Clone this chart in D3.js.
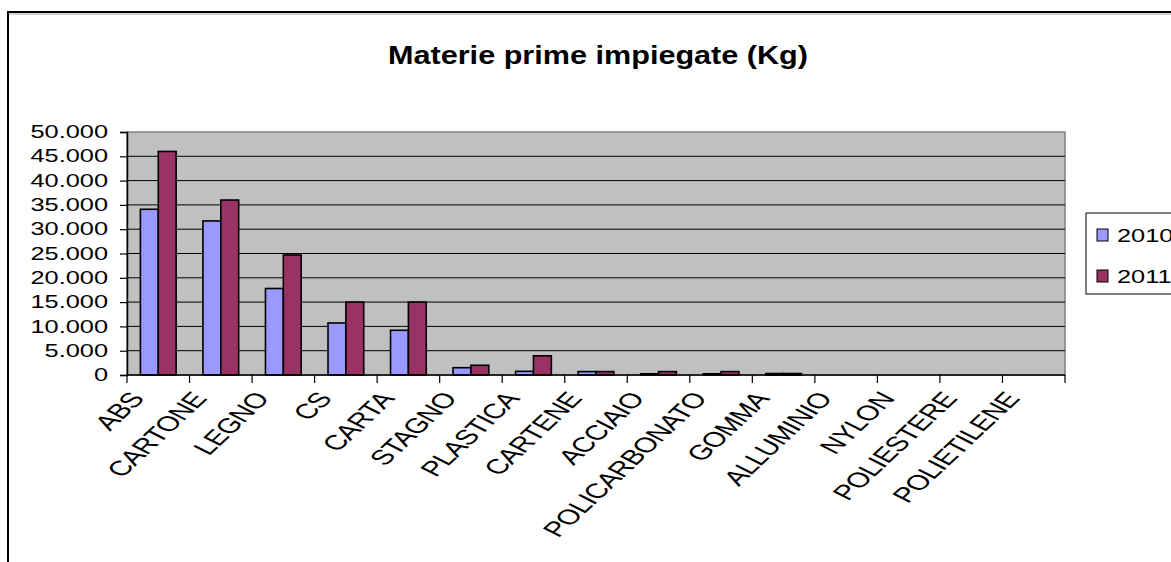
<!DOCTYPE html>
<html>
<head>
<meta charset="utf-8">
<script src="https://cdn.jsdelivr.net/npm/d3@7"></script>
<style>
  body { margin: 0; background: #fff; }
  svg { display: block; }
  text { font-family: "Liberation Sans", Arial, sans-serif; }
</style>
</head>
<body>
<div id="chart"></div>
<script>
// materials (Kg) for the two years
var categories = ['ABS', 'CARTONE', 'LEGNO', 'CS', 'CARTA', 'STAGNO', 'PLASTICA', 'CARTENE',
  'ACCIAIO', 'POLICARBONATO', 'GOMMA', 'ALLUMINIO', 'NYLON', 'POLIESTERE', 'POLIETILENE'];
var years = ['2010', '2011'];
var values2010 = [34100, 31700, 17800, 10700, 9200, 1500, 750, 700, 250, 250, 300, 0, 0, 0, 0];
var values2011 = [46000, 36000, 24700, 15000, 15000, 2000, 3950, 700, 700, 700, 300, 0, 0, 0, 0];
var yTicks = [0, 5000, 10000, 15000, 20000, 25000, 30000, 35000, 40000, 45000, 50000];

var W = 1171, H = 562;
var stretch = 1.45; // text in the picture is drawn wide
var pLeft = 127, pRight = 1065, pTop = 132, pBottom = 375;
var colors = { '2010': '#9999FF', '2011': '#993366' };

var rows = categories.map(function(c, i) {
  return { cat: c, '2010': values2010[i], '2011': values2011[i] };
});

var it = d3.formatLocale({ decimal: ',', thousands: '.', grouping: [3], currency: ['', '€'] });
var fmt = it.format(',d');

var svg = d3.select('#chart').append('svg')
  .attr('width', W).attr('height', H);

// outer chart frame
svg.append('rect')
  .attr('x', 8).attr('y', 12).attr('width', W + 20).attr('height', H + 20)
  .attr('fill', '#fff').attr('stroke', '#000').attr('stroke-width', 2);
svg.append('line').attr('x1', 9).attr('x2', W).attr('y1', 14).attr('y2', 14)
  .attr('stroke', '#aaa').attr('stroke-width', 1);

// title
svg.append('text')
  .attr('x', 388).attr('y', 64)
  .attr('font-size', 25).attr('font-weight', 'bold')
  .attr('textLength', 420).attr('lengthAdjust', 'spacingAndGlyphs')
  .text('Materie prime impiegate (Kg)');

var x = d3.scaleBand().domain(categories).range([pLeft, pRight])
  .paddingInner(1.5 / 3.5).paddingOuter(0.75 / 3.5);
var xEdge = d3.scaleBand().domain(categories).range([pLeft, pRight]);
var xs = d3.scaleBand().domain(years).range([0, x.bandwidth()]);
var y = d3.scaleLinear().domain([0, 50000]).range([pBottom, pTop]);

// plot area
svg.append('rect')
  .attr('x', pLeft).attr('y', pTop).attr('width', pRight - pLeft).attr('height', pBottom - pTop)
  .attr('fill', '#C0C0C0').attr('stroke', '#808080').attr('stroke-width', 1.5);

svg.append('g').selectAll('line')
  .data(yTicks.filter(function(d) { return d > 0 && d < 50000; }))
  .enter().append('line')
  .attr('x1', pLeft).attr('x2', pRight)
  .attr('y1', function(d) { return y(d); }).attr('y2', function(d) { return y(d); })
  .attr('stroke', '#000').attr('stroke-width', 1);

// bars
var groups = svg.append('g').selectAll('g')
  .data(rows).enter().append('g')
  .attr('transform', function(d) { return 'translate(' + x(d.cat) + ',0)'; });
groups.selectAll('rect')
  .data(function(d) { return years.map(function(k) { return { key: k, value: d[k] }; }); })
  .enter().append('rect')
  .attr('x', function(d) { return xs(d.key); })
  .attr('y', function(d) { return y(d.value); })
  .attr('width', xs.bandwidth())
  .attr('height', function(d) { return pBottom - y(d.value); })
  .attr('fill', function(d) { return colors[d.key]; })
  .attr('stroke', '#000').attr('stroke-width', 1.6);

// y axis
var yAxis = svg.append('g')
  .attr('transform', 'translate(' + pLeft + ',0)')
  .call(d3.axisLeft(y).tickValues(yTicks).tickFormat(fmt).tickSize(7).tickPadding(12));
yAxis.select('.domain').attr('stroke', '#000').attr('stroke-width', 1.5);
yAxis.selectAll('.tick line').attr('stroke', '#000').attr('stroke-width', 1.2);
yAxis.selectAll('.tick text')
  .attr('font-family', '"Liberation Sans", Arial, sans-serif')
  .attr('font-size', 17.5).attr('fill', '#000')
  .attr('x', -19 / stretch)
  .attr('transform', 'scale(' + stretch + ',1)');

// x axis line + category boundary ticks
svg.append('line').attr('x1', pLeft).attr('x2', pRight).attr('y1', pBottom).attr('y2', pBottom)
  .attr('stroke', '#000').attr('stroke-width', 1.5);
var edges = categories.map(function(c) { return xEdge(c); }).concat([pRight]);
svg.append('g').selectAll('line').data(edges).enter().append('line')
  .attr('x1', function(d) { return d; }).attr('x2', function(d) { return d; })
  .attr('y1', pBottom).attr('y2', pBottom + 8)
  .attr('stroke', '#000').attr('stroke-width', 1.2);

// rotated category labels (the picture is stretched sideways, so they look skewed)
svg.append('clipPath').attr('id', 'labclip')
  .append('rect').attr('x', 0).attr('y', 390).attr('width', W).attr('height', H);
svg.append('g').attr('clip-path', 'url(#labclip)')
  .selectAll('text').data(categories).enter().append('text')
  .attr('transform', function(d) {
    var cx = xEdge(d) + xEdge.bandwidth() / 2;
    return 'translate(' + (cx - 13) + ',' + (pBottom + 24) + ') scale(' + stretch + ',1) rotate(-53.5)';
  })
  .attr('text-anchor', 'end')
  .attr('font-size', 21)
  .attr('letter-spacing', -0.4)
  .text(function(d) { return d; });

// legend
var lg = svg.append('g');
lg.append('rect').attr('x', 1086).attr('y', 213).attr('width', 120).attr('height', 81)
  .attr('fill', '#fff').attr('stroke', '#000').attr('stroke-width', 1);
var items = lg.selectAll('g.item').data(years).enter().append('g')
  .attr('transform', function(d, i) { return 'translate(1097,' + (229 + i * 41) + ')'; });
items.append('rect').attr('width', 11).attr('height', 12)
  .attr('fill', function(d) { return colors[d]; })
  .attr('stroke', '#000').attr('stroke-width', 1);
items.append('text')
  .attr('x', 20 / stretch).attr('y', 12.5)
  .attr('transform', 'scale(' + stretch + ',1)')
  .attr('font-size', 17.5)
  .text(function(d) { return d; });
</script>
</body>
</html>
